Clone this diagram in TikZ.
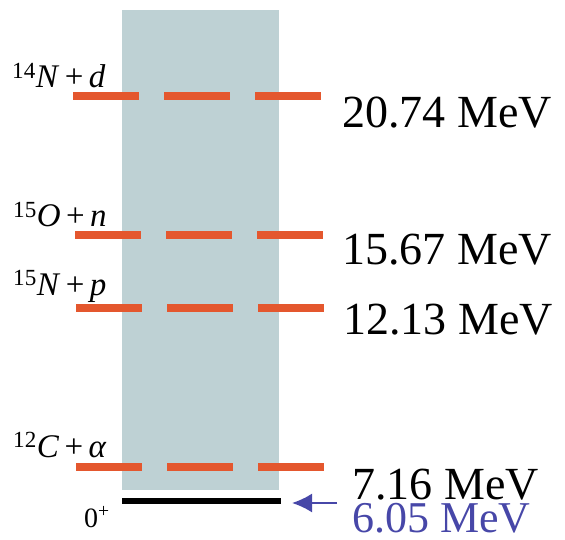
\documentclass[tikz,border=0pt]{standalone}
\usepackage{fontspec}
\setmainfont{Liberation Serif}
\usepackage{xcolor}
\usepackage{tikz}
\usetikzlibrary{arrows.meta,positioning,calc}
\definecolor{window}{HTML}{BED1D4}
\definecolor{threshold}{HTML}{E4572E}
\definecolor{ink}{HTML}{000000}
\definecolor{statecol}{HTML}{4747A8}

\begin{document}
\begin{tikzpicture}[
  x=1pt,y=-1pt,
  channel/.style={draw=threshold,line width=8pt,dash pattern=on 66pt off 25pt},
  groundline/.style={draw=ink,line width=6pt},
  chanlabel/.style={anchor=base west,inner sep=0pt,font=\fontsize{33}{33}\selectfont},
  energy/.style={anchor=base west,inner sep=0pt,font=\fontsize{46}{46}\selectfont},
  pointer/.style={-{Latex[length=20pt,width=19pt]},line width=2pt,draw=statecol}
]
  \useasboundingbox (0,0) rectangle (565,540);
  \fill[window] (122,10) rectangle (279,490);

  % thresholds
  \coordinate (ndL) at (73,96);  \coordinate (ndR) at (324,96);
  \coordinate (onL) at (75,235); \coordinate (onR) at (326,235);
  \coordinate (npL) at (76,308); \coordinate (npR) at (327,308);
  \coordinate (caL) at (76,467); \coordinate (caR) at (327,467);
  \draw[channel] (ndL) -- (ndR);
  \draw[channel] (onL) -- (onR);
  \draw[channel] (npL) -- (npR);
  \draw[channel] (caL) -- (caR);

  % Hoyle-like 0+ state
  \coordinate (gndL) at (122,501); \coordinate (gndR) at (281,501);
  \draw[groundline] (gndL) -- (gndR);

  \node[chanlabel] (nd) at (12,88) {\textsuperscript{14}\textit{N}\,+\,\textit{d}};
  \node[chanlabel] (on) at (13,227) {\textsuperscript{15}\textit{O}\,+\,\textit{n}};
  \node[chanlabel] (np) at (13,295) {\textsuperscript{15}\textit{N}\,+\,\textit{p}};
  \node[chanlabel] (ca) at (13,457) {\textsuperscript{12}\textit{C}\,+\,\textit{α}};
  \node[chanlabel,font=\fontsize{28}{28}\selectfont] (spin) at (84,527) {0\textsuperscript{+}};

  \node[energy] (e2074) at (342,128) {20.74 MeV};
  \node[energy] (e1567) at (342,265) {15.67 MeV};
  \node[energy] (e1213) at (343,334) {12.13 MeV};
  \node[energy] (e716) at (352,499) {7.16 MeV};
  \node[energy,text=statecol,font=\fontsize{44}{44}\selectfont] (e605) at (352,532) {6.05 MeV};

  \coordinate (arrtail) at (337,503);
  \draw[pointer] (arrtail) -- ($(gndR)+(11,2)$);
\end{tikzpicture}
\end{document}
